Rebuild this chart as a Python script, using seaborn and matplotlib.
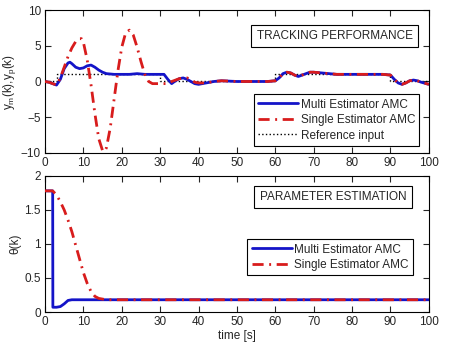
import matplotlib
matplotlib.use("Agg")
import matplotlib.pyplot as plt
import seaborn as sns
import pandas as pd

# ---------------- data ----------------
t_multi_top = [0, 1, 2, 3, 4, 5, 6, 6.5, 7, 8, 9, 10, 11, 12, 13, 14, 15, 16, 18, 20, 22, 24, 26, 28, 30, 31,
               32, 33, 34, 35, 36, 37, 38, 39, 40, 42, 44, 46, 50, 55, 58, 60, 61, 62, 63, 64, 65, 66, 67, 68,
               69, 70, 72, 74, 76, 80, 85, 88, 90, 91, 92, 93, 94, 95, 96, 97, 98, 100]
y_multi_top = [0, -0.1, -0.3, -0.5, 0.3, 1.8, 2.6, 2.7, 2.5, 2.0, 1.8, 1.9, 2.2, 2.3, 2.0, 1.6, 1.3, 1.1, 1.0,
               1.0, 1.0, 1.1, 1.0, 1.0, 1.0, 1.0, 0.3, -0.3, 0.1, 0.4, 0.5, 0.3, 0.0, -0.3, -0.4, -0.2, 0.0,
               0.1, 0.0, 0.0, 0.0, 0.1, 0.5, 1.1, 1.3, 1.2, 0.9, 0.7, 0.9, 1.1, 1.3, 1.3, 1.2, 1.1, 1.0, 1.0,
               1.0, 1.0, 0.9, 0.3, -0.2, -0.4, -0.2, 0.1, 0.2, 0.1, -0.1, -0.4]

t_single_top = [0, 1, 2, 3, 4, 5, 6, 7, 8, 9, 9.5, 10, 11, 12, 13, 14, 15, 15.5, 16, 17, 18, 19, 20, 21, 22,
                23, 24, 25, 26, 27, 28, 30, 32, 33, 35, 37, 38, 39, 40, 42, 44, 46, 50, 55, 58, 60, 61, 62,
                63, 64, 65, 66, 67, 68, 69, 70, 72, 74, 76, 80, 85, 88, 90, 91, 92, 93, 94, 95, 96, 97, 98, 100]
y_single_top = [0, -0.1, -0.3, -0.5, 0.5, 2.0, 3.5, 4.7, 5.6, 6.0, 6.0, 5.5, 3.0, -0.5, -4.5, -8.0, -9.7,
                -9.8, -9.3, -6.5, -2.5, 1.5, 4.8, 6.8, 7.2, 6.5, 4.8, 2.8, 1.0, 0.0, -0.3, -0.3, -0.3, 0.0,
                0.4, 0.5, 0.3, -0.1, -0.2, -0.2, 0.0, 0.1, 0.0, 0.0, 0.0, 0.1, 0.5, 1.1, 1.3, 1.2, 0.9, 0.7,
                0.9, 1.1, 1.3, 1.3, 1.2, 1.1, 1.0, 1.0, 1.0, 1.0, 0.9, 0.3, -0.2, -0.4, -0.2, 0.1, 0.2, 0.1,
                -0.1, -0.4]

t_ref = [0, 3, 3, 30, 30, 60, 60, 90, 90, 100]
y_ref = [0, 0, 1, 1, 0, 0, 1, 1, 0, 0]

t_multi_bot = [0, 2, 2.05, 3, 4, 5, 6, 7, 100]
y_multi_bot = [1.78, 1.78, 0.07, 0.07, 0.08, 0.12, 0.17, 0.18, 0.18]

t_single_bot = [0, 2, 3, 4, 5, 6, 7, 8, 9, 10, 11, 12, 13, 14, 15, 16, 100]
y_single_bot = [1.78, 1.78, 1.72, 1.62, 1.5, 1.35, 1.18, 0.98, 0.78, 0.58, 0.42, 0.3, 0.23, 0.2, 0.19,
                0.18, 0.18]

x_ticks = [0, 10, 20, 30, 40, 50, 60, 70, 80, 90, 100]
y_ticks_top = [-10, -5, 0, 5, 10]
y_ticks_bot = [0, 0.5, 1, 1.5, 2]

# ---------------- style ----------------
sns.set_style("white")
plt.rcParams['font.family'] = ['Liberation Sans', 'DejaVu Sans']
plt.rcParams['font.size'] = 8
plt.rcParams['xtick.direction'] = 'in'
plt.rcParams['ytick.direction'] = 'in'

BLUE = '#1414c8'
RED = '#d81c1c'
DASHDOT = (4, 2, 0.7, 2)

fig = plt.figure(figsize=(4.5, 3.49), dpi=100)
ax1 = fig.add_axes([0.10, 0.562, 0.853, 0.409])
ax2 = fig.add_axes([0.10, 0.106, 0.853, 0.39])

df_m = pd.DataFrame({'t': t_multi_top, 'y': y_multi_top})
df_s = pd.DataFrame({'t': t_single_top, 'y': y_single_top})
df_r = pd.DataFrame({'t': t_ref, 'y': y_ref})

sns.lineplot(data=df_m, x='t', y='y', ax=ax1, color=BLUE, linestyle='-', lw=2.0,
             label='Multi Estimator AMC', sort=False, estimator=None, zorder=2)
sns.lineplot(data=df_s, x='t', y='y', ax=ax1, color=RED, lw=2.0,
             label='Single Estimator AMC', sort=False, estimator=None, zorder=3)
sns.lineplot(data=df_r, x='t', y='y', ax=ax1, color='black', linestyle=':', lw=1.0,
             label='Reference input', sort=False, estimator=None, zorder=1)
ax1.lines[1].set_dashes(DASHDOT)

df_mb = pd.DataFrame({'t': t_multi_bot, 'y': y_multi_bot})
df_sb = pd.DataFrame({'t': t_single_bot, 'y': y_single_bot})
sns.lineplot(data=df_mb, x='t', y='y', ax=ax2, color=BLUE, linestyle='-', lw=2.0,
             label='Multi Estimator AMC', sort=False, estimator=None, zorder=2)
sns.lineplot(data=df_sb, x='t', y='y', ax=ax2, color=RED, lw=2.0,
             label='Single Estimator AMC', sort=False, estimator=None, zorder=3)
ax2.lines[1].set_dashes(DASHDOT)

for ax in (ax1, ax2):
    ax.set_xlim(0, 100)
    ax.set_xticks(x_ticks)
    ax.tick_params(top=True, right=True, bottom=True, left=True, length=4, width=0.8,
                   labelsize=8.5, pad=3)
    for s in ax.spines.values():
        s.set_color('black')
        s.set_linewidth(0.8)

ax1.set_ylim(-10, 10)
ax1.set_yticks(y_ticks_top)
ax1.set_xlabel('')
ax1.set_ylabel(r'$\mathregular{y_m(k){,}y_p(k)}$', labelpad=2, fontsize=8.5)
ax2.set_ylim(0, 2)
ax2.set_yticks(y_ticks_bot)
ax2.set_yticklabels(['0', '0.5', '1', '1.5', '2'])
ax2.set_xlabel('time [s]', labelpad=1, fontsize=8.5)
ax2.set_ylabel('θ(k)', labelpad=2, fontsize=8.5)

# legends
ax1.legend(loc='lower right', bbox_to_anchor=(0.975, 0.05), frameon=True, fancybox=False,
           edgecolor='black', framealpha=1, fontsize=8.5, handlelength=3.4, borderpad=0.35,
           labelspacing=0.3, handletextpad=0.2, borderaxespad=0)
ax2.legend(loc='lower right', bbox_to_anchor=(0.958, 0.27), frameon=True, fancybox=False,
           edgecolor='black', framealpha=1, fontsize=8.5, handlelength=3.4, borderpad=0.35,
           labelspacing=0.3, handletextpad=0.2, borderaxespad=0)
for ax in (ax1, ax2):
    lg = ax.get_legend()
    lg.get_frame().set_linewidth(0.8)
    for ln in lg.get_lines():
        if ln.get_color() == RED:
            ln.set_dashes(DASHDOT)

ax1.text(0.755, 0.82, 'TRACKING PERFORMANCE', transform=ax1.transAxes, ha='center', va='center',
         fontsize=8.5, bbox=dict(boxstyle='square,pad=0.45', fc='white', ec='black', lw=0.8))
ax2.text(0.75, 0.845, 'PARAMETER ESTIMATION', transform=ax2.transAxes, ha='center', va='center',
         fontsize=8.5, bbox=dict(boxstyle='square,pad=0.45', fc='white', ec='black', lw=0.8))

fig.savefig('out.png', dpi=100)
